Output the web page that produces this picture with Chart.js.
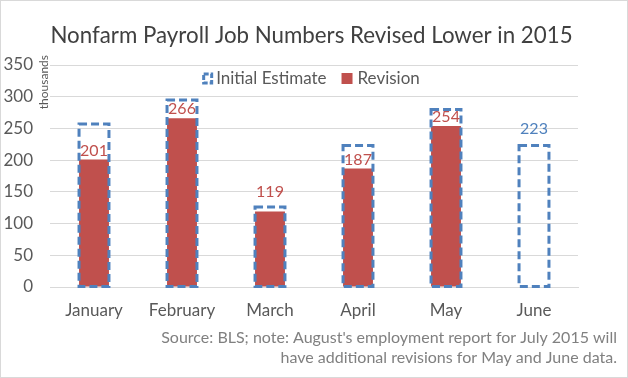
<!DOCTYPE html>
<html><head><meta charset="utf-8">
<style>html,body{margin:0;padding:0;background:#fff}#wrap{width:628px;height:378px;position:relative}canvas{display:block}</style>
<script src="https://cdn.jsdelivr.net/npm/chart.js@4"></script>
</head><body><div id="wrap"><canvas id="c" width="628" height="378"></canvas></div>
<script>
const months = ['January', 'February', 'March', 'April', 'May', 'June'];
const initialEstimate = [257, 295, 126, 223, 280, 223];
const revision = [201, 266, 119, 187, 254, null];
const yTicks = [0, 50, 100, 150, 200, 250, 300, 350];
const titleText = 'Nonfarm Payroll Job Numbers Revised Lower in 2015';
const sourceLines = ["Source: BLS; note: August's employment report for July 2015 will", "have additional revisions for May and June data."];
const yAxisLabel = 'thousands';
const seriesNames = ['Initial Estimate', 'Revision'];

const FONT = 'Lato';
const RED = '#C0504D';
const BLUE = '#4F81BD';

const overlay = {
  id: 'overlay',
  afterDatasetsDraw(chart) {
    const ctx = chart.ctx;
    const initMeta = chart.getDatasetMeta(0);
    const revMeta = chart.getDatasetMeta(1);
    ctx.save();
    ctx.strokeStyle = BLUE;
    ctx.lineWidth = 3;
    ctx.setLineDash([8, 4]);
    initMeta.data.forEach((el) => {
      const p = el.getProps(['x', 'y', 'base', 'width'], true);
      ctx.strokeRect(p.x - p.width / 2, p.y, p.width, p.base - p.y);
    });
    ctx.setLineDash([]);
    ctx.font = '16px ' + FONT;
    ctx.textAlign = 'center';
    ctx.textBaseline = 'bottom';
    revision.forEach((v, i) => {
      const ie = initMeta.data[i].getProps(['x', 'y'], true);
      if (v === null || v === undefined) {
        ctx.fillStyle = BLUE;
        ctx.fillText(String(initialEstimate[i]), ie.x, ie.y - 9);
        return;
      }
      const re = revMeta.data[i].getProps(['x', 'y'], true);
      ctx.fillStyle = RED;
      const gap = re.y - ie.y;
      if (gap >= 16) ctx.fillText(String(v), re.x, re.y - 1);
      else ctx.fillText(String(v), re.x, ie.y - 7);
    });
    ctx.restore();
  },
  afterDraw(chart) {
    const ctx = chart.ctx;
    ctx.save();
    // title
    ctx.font = '22.3px ' + FONT;
    ctx.fillStyle = '#404040';
    ctx.textAlign = 'center';
    ctx.textBaseline = 'alphabetic';
    ctx.fillText(titleText, 311.5, 43);
    // source note
    ctx.font = '16px ' + FONT;
    ctx.fillStyle = '#808080';
    ctx.textAlign = 'right';
    ctx.fillText(sourceLines[0], 617, 343);
    ctx.fillText(sourceLines[1], 617, 363);
    // legend
    ctx.font = '17px ' + FONT;
    ctx.textBaseline = 'alphabetic';
    ctx.textAlign = 'left';
    const lb = 84;
    const ly = 78.5;
    const w1 = ctx.measureText(seriesNames[0]).width;
    const w2 = ctx.measureText(seriesNames[1]).width;
    const total = 10 + 4 + w1 + 15 + 11 + 5 + w2;
    const cx = (chart.chartArea.left + chart.chartArea.right) / 2 - 3;
    let x = cx - total / 2;
    ctx.strokeStyle = BLUE;
    ctx.lineWidth = 3;
    ctx.setLineDash([5, 2]);
    ctx.strokeRect(x + 1.5, ly - 4.5, 8, 9);
    ctx.setLineDash([]);
    x += 10 + 4;
    ctx.fillStyle = '#595959';
    ctx.fillText(seriesNames[0], x, lb);
    x += w1 + 15;
    ctx.fillStyle = RED;
    ctx.fillRect(x, ly - 5.5, 11, 11);
    x += 11 + 5;
    ctx.fillStyle = '#595959';
    ctx.fillText(seriesNames[1], x, lb);
    // y axis label
    ctx.translate(48, 55);
    ctx.rotate(-Math.PI / 2);
    ctx.font = '12px ' + FONT;
    ctx.textAlign = 'right';
    ctx.fillStyle = '#595959';
    ctx.fillText(yAxisLabel, 0, 0);
    ctx.restore();
    // border
    ctx.save();
    ctx.strokeStyle = '#D9D9D9';
    ctx.lineWidth = 1;
    ctx.strokeRect(0.5, 0.5, chart.width - 1, chart.height - 1);
    ctx.restore();
  }
};

new Chart(document.getElementById('c'), {
  type: 'bar',
  data: {
    labels: months,
    datasets: [
      { label: seriesNames[0], data: initialEstimate, backgroundColor: 'rgba(0,0,0,0)', borderWidth: 0, grouped: false, barPercentage: 0.34, categoryPercentage: 1 },
      { label: seriesNames[1], data: revision, backgroundColor: RED, borderWidth: 0, grouped: false, barPercentage: 0.34, categoryPercentage: 1 }
    ]
  },
  options: {
    responsive: false,
    animation: false,
    devicePixelRatio: 1,
    layout: { padding: { left: 0, right: 50, top: 65, bottom: 47 } },
    plugins: {
      legend: { display: false },
      tooltip: { enabled: false },
      title: { display: false },
      subtitle: { display: false }
    },
    scales: {
      x: {
        grid: { display: false, drawTicks: false },
        border: { display: true, color: '#D9D9D9' },
        ticks: { color: '#595959', font: { family: FONT, size: 17 }, padding: 13 },
        afterFit(s) { s.height = 44; }
      },
      y: {
        min: 0, max: 350,
        afterBuildTicks(s) { s.ticks = yTicks.map(v => ({ value: v })); },
        grid: { color: '#D9D9D9', drawTicks: false },
        border: { display: false },
        ticks: { color: '#595959', font: { family: FONT, size: 17 }, padding: 17 },
        afterFit(s) { s.width = 50; }
      }
    }
  },
  plugins: [overlay]
});
</script>
</body></html>
